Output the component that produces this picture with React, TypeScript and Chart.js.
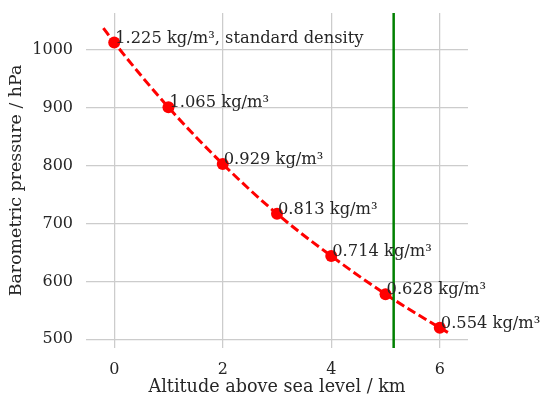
import React, { useEffect, useRef } from "react";
import { Chart, registerables } from "chart.js";

Chart.register(...registerables);

const ALTITUDES = [0, 1, 2, 3, 4, 5, 6];
const PRESSURES = [1013, 901, 803, 717, 644, 578, 520];
const DENSITY_LABELS = [
  "1.225 kg/m³, standard density",
  "1.065 kg/m³",
  "0.929 kg/m³",
  "0.813 kg/m³",
  "0.714 kg/m³",
  "0.628 kg/m³",
  "0.554 kg/m³",
];
// dashed curve (extends slightly beyond the markers)
const CURVE_X = [-0.2, 0, 1, 2, 3, 4, 5, 6, 6.15];
const CURVE_Y = [1038, 1013, 901, 803, 717, 644, 578, 520, 512];
const VLINE_X = 5.15;
const X_TICKS = [0, 2, 4, 6];
const Y_TICKS = [500, 600, 700, 800, 900, 1000];
const X_MIN = -0.52;
const X_MAX = 6.52;
const Y_MIN = 485;
const Y_MAX = 1064;

const FONT = "'DejaVu Serif', serif";
const TEXT = "#262626";

export default function App() {
  const ref = useRef<HTMLCanvasElement | null>(null);

  useEffect(() => {
    if (!ref.current) return;
    const labelPlugin = {
      id: "densityLabels",
      afterDatasetsDraw(chart: any) {
        const { ctx, scales } = chart;
        ctx.save();
        ctx.font = `16.3px ${FONT}`;
        ctx.fillStyle = TEXT;
        ctx.textAlign = "left";
        ctx.textBaseline = "alphabetic";
        ALTITUDES.forEach((a, i) => {
          const x = scales.x.getPixelForValue(a);
          const y = scales.y.getPixelForValue(PRESSURES[i]);
          ctx.fillText(DENSITY_LABELS[i], x + 1, y);
        });
        ctx.restore();
      },
    };

    const chart = new Chart(ref.current, {
      type: "scatter",
      data: {
        datasets: [
          {
            label: "vline",
            data: [
              { x: VLINE_X, y: Y_MIN },
              { x: VLINE_X, y: Y_MAX },
            ],
            showLine: true,
            borderColor: "#008000",
            borderWidth: 2.5,
            pointRadius: 0,
            order: 0,
          },
          {
            label: "points",
            data: ALTITUDES.map((a, i) => ({ x: a, y: PRESSURES[i] })),
            showLine: false,
            backgroundColor: "#ff0000",
            borderColor: "#ff0000",
            pointRadius: 6,
            pointBorderWidth: 0,
            order: 1,
          },
          {
            label: "curve",
            data: CURVE_X.map((a, i) => ({ x: a, y: CURVE_Y[i] })),
            showLine: true,
            borderColor: "#ff0000",
            borderWidth: 3,
            borderDash: [9, 4],
            pointRadius: 0,
            cubicInterpolationMode: "monotone",
            order: 2,
          },
        ],
      },
      options: {
        responsive: false,
        animation: false,
        layout: { padding: { left: 0, right: 73, top: 13, bottom: 0 } },
        plugins: {
          legend: { display: false },
          tooltip: { enabled: false },
        },
        scales: {
          x: {
            type: "linear",
            min: X_MIN,
            max: X_MAX,
            afterBuildTicks: (s: any) => {
              s.ticks = X_TICKS.map((v) => ({ value: v }));
            },
            afterFit: (s: any) => {
              s.height = 51;
              s.paddingLeft = 0;
              s.paddingRight = 0;
            },
            border: { display: false },
            grid: { color: "#cccccc", lineWidth: 1.25, drawTicks: false },
            ticks: {
              padding: 12,
              color: TEXT,
              font: { family: FONT, size: 16 },
              callback: (v: any) => String(v),
            },
            title: {
              display: true,
              text: "Altitude above sea level / km",
              color: TEXT,
              font: { family: FONT, size: 17.6 },
              padding: { top: 0, bottom: 1 },
            },
          },
          y: {
            type: "linear",
            min: Y_MIN,
            max: Y_MAX,
            afterBuildTicks: (s: any) => {
              s.ticks = Y_TICKS.map((v) => ({ value: v }));
            },
            afterFit: (s: any) => {
              s.width = 86;
              s.paddingTop = 0;
              s.paddingBottom = 0;
            },
            border: { display: false },
            grid: { color: "#cccccc", lineWidth: 1.25, drawTicks: false },
            ticks: {
              padding: 13,
              color: TEXT,
              font: { family: FONT, size: 16 },
              callback: (v: any) => String(v),
            },
            title: {
              display: true,
              text: "Barometric pressure / hPa",
              color: TEXT,
              font: { family: FONT, size: 17.4 },
              padding: { top: 6, bottom: 0 },
            },
          },
        },
      },
      plugins: [labelPlugin],
    });
    return () => chart.destroy();
  }, []);

  return (
    <div style={{ position: "absolute", left: 0, top: 0, width: 541, height: 399, background: "#fff" }}>
      <canvas ref={ref} width={541} height={399} style={{ display: "block" }} />
    </div>
  );
}
